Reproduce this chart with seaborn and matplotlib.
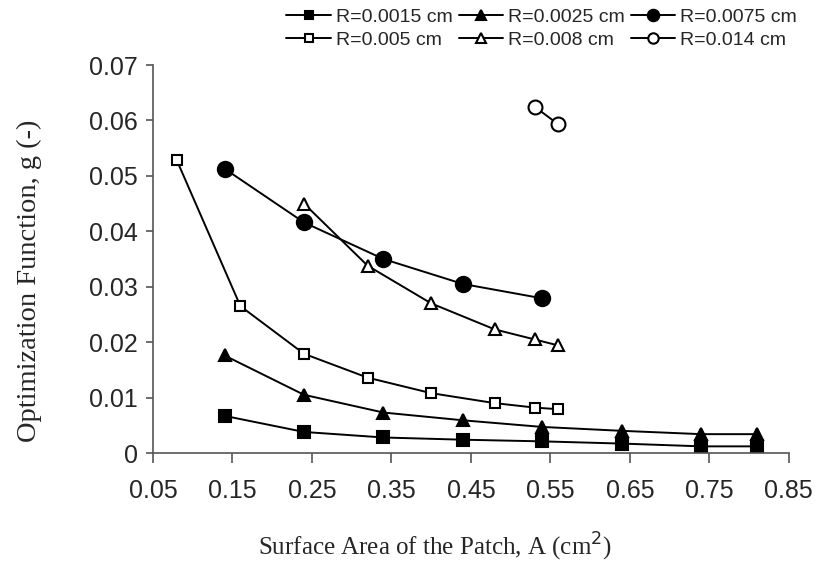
import numpy as np
import pandas as pd
import matplotlib
matplotlib.use('Agg')
import matplotlib.pyplot as plt
import seaborn as sns

# 데이터
labels = ['R=0.0015 cm', 'R=0.0025 cm', 'R=0.0075 cm',
          'R=0.005 cm', 'R=0.008 cm', 'R=0.014 cm']

x_0015 = [0.14, 0.24, 0.34, 0.44, 0.54, 0.64, 0.74, 0.81]
g_0015 = [0.0067, 0.0038, 0.0028, 0.0024, 0.0021, 0.0017, 0.0012, 0.0012]

x_0025 = [0.14, 0.24, 0.34, 0.44, 0.54, 0.64, 0.74, 0.81]
g_0025 = [0.0176, 0.0105, 0.0073, 0.0059, 0.0047, 0.0040, 0.0034, 0.0034]

x_0075 = [0.14, 0.24, 0.34, 0.44, 0.54]
g_0075 = [0.0513, 0.0416, 0.0350, 0.0305, 0.0279]

x_005 = [0.08, 0.16, 0.24, 0.32, 0.40, 0.48, 0.53, 0.56]
g_005 = [0.0528, 0.0265, 0.0179, 0.0136, 0.0108, 0.0090, 0.0082, 0.0079]

x_008 = [0.24, 0.32, 0.40, 0.48, 0.53, 0.56]
g_008 = [0.0450, 0.0338, 0.0270, 0.0223, 0.0205, 0.0194]

x_014 = [0.53, 0.56]
g_014 = [0.0625, 0.0593]

xticks = [0.05, 0.15, 0.25, 0.35, 0.45, 0.55, 0.65, 0.75, 0.85]
yticks = [0, 0.01, 0.02, 0.03, 0.04, 0.05, 0.06, 0.07]

series = [
    (labels[0], x_0015, g_0015, 's', 'black', 8),
    (labels[1], x_0025, g_0025, '^', 'black', 9),
    (labels[2], x_0075, g_0075, 'o', 'black', 11),
    (labels[3], x_005, g_005, 's', 'white', 7.5),
    (labels[4], x_008, g_008, '^', 'white', 9),
    (labels[5], x_014, g_014, 'o', 'white', 10),
]

sns.set_style('ticks')
plt.rcParams['font.family'] = ['Liberation Sans', 'DejaVu Sans']

fig = plt.figure(figsize=(8.2, 5.81), dpi=100)
ax = fig.add_axes([0.1866, 0.2203, 0.7754, 0.6677])

for name, xs, ys, mk, fc, ms in series:
    df = pd.DataFrame({'A': xs, 'g': ys})
    sns.lineplot(data=df, x='A', y='g', ax=ax, color='black', linewidth=1.4,
                 marker=mk, markersize=ms, markerfacecolor=fc,
                 markeredgecolor='black', markeredgewidth=1.5,
                 estimator=None, label=name)

h, l = ax.get_legend_handles_labels()
ax.get_legend().remove()
hd = dict(zip(l, h))
order = [labels[0], labels[3], labels[1], labels[4], labels[2], labels[5]]
fig.legend([hd[k] for k in order], order, loc='upper left',
           bbox_to_anchor=(0.335, 1.006), ncol=3, frameon=False,
           fontsize=14, handlelength=2.3, handletextpad=0.25,
           columnspacing=0.3, labelspacing=0.3, borderaxespad=0.2,
           markerscale=0.75)

ax.set_xlim(0.05, 0.85)
ax.set_ylim(0, 0.07)
ax.set_xticks(xticks)
ax.set_xticklabels([f'{v:.2f}' for v in xticks])
ax.set_yticks(yticks)
ax.set_yticklabels(['0'] + [f'{v:.2f}' for v in yticks[1:]])
ax.tick_params(axis='both', labelsize=18, color='#555555', width=1.2)
ax.tick_params(axis='x', length=7, pad=12)
ax.tick_params(axis='y', length=5, pad=6)
sns.despine(ax=ax)
for s in ['left', 'bottom']:
    ax.spines[s].set_color('#555555')
    ax.spines[s].set_linewidth(1.2)

ax.set_xlabel('Surface Area of the Patch, A (cm$^2$)', fontsize=18,
              family='Liberation Serif')
ax.xaxis.set_label_coords(0.443, -0.2)
ax.set_ylabel('Optimization Function, g (-)', fontsize=20.5,
              family='Liberation Serif')
ax.yaxis.set_label_coords(-0.175, 0.445)

fig.savefig('out.png', dpi=100)
